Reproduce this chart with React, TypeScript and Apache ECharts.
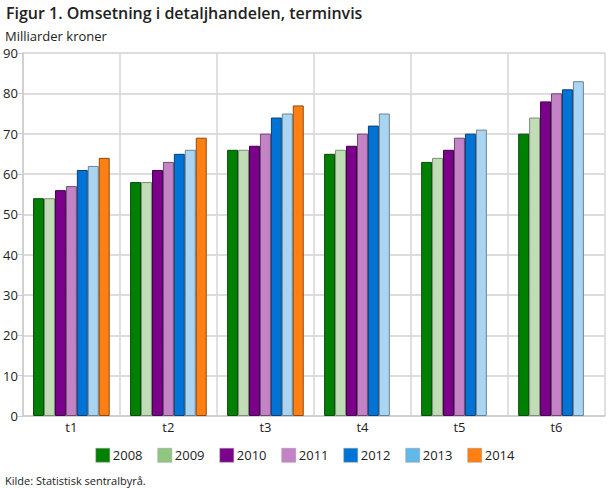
import React, { useEffect, useRef } from "react";
import * as echarts from "echarts";

const categories = ["t1", "t2", "t3", "t4", "t5", "t6"];
const years = ["2008", "2009", "2010", "2011", "2012", "2013", "2014"];
const v2008 = [54, 58, 66, 65, 63, 70];
const v2009 = [54, 58, 66, 66, 64, 74];
const v2010 = [56, 61, 67, 67, 66, 78];
const v2011 = [57, 63, 70, 70, 69, 80];
const v2012 = [61, 65, 74, 72, 70, 81];
const v2013 = [62, 66, 75, 75, 71, 83];
const v2014 = [64, 69, 77, null, null, null];
const seriesValues = [v2008, v2009, v2010, v2011, v2012, v2013, v2014];

const barColors = ["#008000", "#c0ddb6", "#7b008a", "#c583c7", "#0074d6", "#a9d5f2", "#ff7f12"];
const borderColors = ["#0b4a0b", "#7d8e77", "#3e0046", "#6e4a70", "#0a3e6e", "#6c8290", "#8a4a10"];
const legendColors = ["#008000", "#90c77e", "#7b008a", "#c583c7", "#0074d6", "#60b9e8", "#ff7f12"];

export default function App() {
  const ref = useRef<HTMLDivElement>(null);
  useEffect(() => {
    const chart = echarts.init(ref.current!, null, { renderer: "svg" });
    const font = "'Open Sans', sans-serif";
    chart.setOption({
      animation: false,
      textStyle: { fontFamily: font },
      title: [
        {
          text: "Figur 1. Omsetning i detaljhandelen, terminvis",
          left: 1,
          top: 0,
          textStyle: { fontFamily: font, fontSize: 16, fontWeight: 600, color: "#222" },
        },
        {
          text: "Milliarder kroner",
          left: 0,
          top: 24,
          textStyle: { fontFamily: font, fontSize: 13, fontWeight: "normal", color: "#222" },
        },
        {
          text: "Kilde: Statistisk sentralbyrå.",
          left: 0,
          top: 470,
          textStyle: { fontFamily: font, fontSize: 11, fontWeight: "normal", color: "#222" },
        },
      ],
      legend: {
        left: "center",
        top: 443,
        itemWidth: 14,
        itemHeight: 14,
        itemGap: 15,
        textStyle: { fontFamily: font, fontSize: 13, color: "#222", padding: [0, 0, 0, -2] },
        data: years.map((y, i) => ({
          name: y,
          icon: "rect",
          itemStyle: { color: legendColors[i], borderColor: "#999", borderWidth: 0.5 },
        })),
      },
      grid: { left: 22, right: 5, top: 53, bottom: 72 },
      xAxis: {
        type: "category",
        data: categories,
        axisLine: { lineStyle: { color: "#ccc", width: 1.5 } },
        axisTick: { show: false },
        axisLabel: { color: "#222", fontSize: 13, fontFamily: font, margin: 4 },
        splitLine: { show: true, lineStyle: { color: "#d6d6d6", width: 1.5 } },
      },
      yAxis: {
        type: "value",
        min: 0,
        max: 90,
        interval: 10,
        axisLine: { show: true, lineStyle: { color: "#ccc", width: 1.5 } },
        axisTick: { show: true, length: 5, lineStyle: { color: "#ccc" } },
        axisLabel: { color: "#222", fontSize: 13, fontFamily: font, margin: 5 },
        splitLine: { show: true, lineStyle: { color: "#dddddd", width: 2 } },
      },
      series: years.map((y, i) => ({
        name: y,
        type: "bar",
        data: seriesValues[i],
        barGap: "0%",
        barCategoryGap: "21%",
        itemStyle: { color: barColors[i], borderColor: borderColors[i], borderWidth: 1 },
      })),
    });
    return () => chart.dispose();
  }, []);
  return <div ref={ref} style={{ width: 610, height: 488, position: "absolute", left: 0, top: 0 }} />;
}
